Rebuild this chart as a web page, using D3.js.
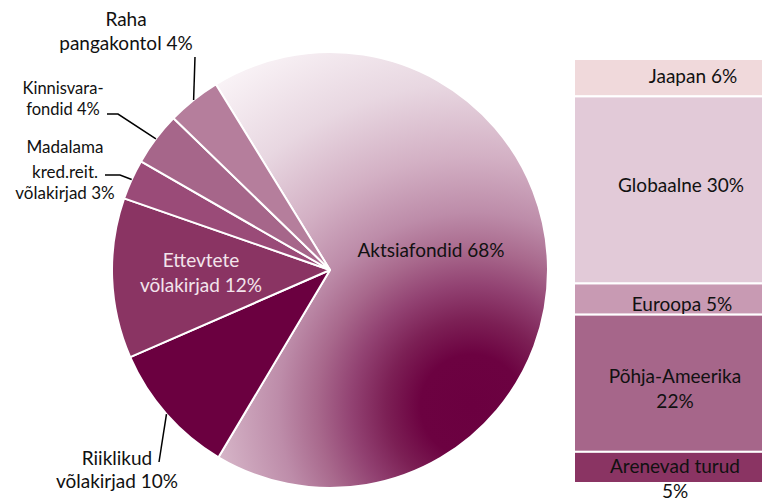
<!DOCTYPE html>
<html>
<head>
<meta charset="utf-8">
<script src="https://cdn.jsdelivr.net/npm/d3@7"></script>
<style>
    body { margin: 0; background: #fff; }
    svg text { font-family: Lato, "Open Sans", sans-serif; }
</style>
</head>
<body>
<div id="chart"></div>
<script>
// pie: portfolio split
const pie_names = ["Aktsiafondid", "Riiklikud võlakirjad", "Ettevtete võlakirjad",
    "Madalama kred.reit. võlakirjad", "Kinnisvarafondid", "Raha pangakontol"];
const pie_values = [68, 10, 12, 3, 4, 4];
const pie_colors = ["url(#aktsia_grad)", "#6b0040", "#8a3463", "#9a4b78", "#a6668a", "#b57e9c"];

// bar: equity funds split by region
const bar_names = ["Jaapan", "Globaalne", "Euroopa", "Põhja-Ameerika", "Arenevad turud"];
const bar_values = [6, 30, 5, 22, 5];
const bar_colors = ["#f0d9db", "#e2cad8", "#c89ab3", "#a6668a", "#8a3463"];

const width = 765, height = 501;
const cx = 330, cy = 270, radius = 218;

const svg = d3.select("#chart")
    .append("svg")
    .attr("width", width)
    .attr("height", height);

const defs = svg.append("defs");
const grad = defs.append("radialGradient")
    .attr("id", "aktsia_grad")
    .attr("gradientUnits", "userSpaceOnUse")
    .attr("cx", 142).attr("cy", 136)
    .attr("r", 430);
[[0, "#6b0040"], [0.12, "#6c0241"], [0.2, "#7c2055"], [0.28, "#924272"],
 [0.36, "#a8688c"], [0.45, "#bd8ca9"], [0.58, "#d3b0c4"], [0.75, "#e8d7e1"], [1, "#fdf9fb"]]
    .forEach(function (s) {
        grad.append("stop").attr("offset", s[0]).attr("stop-color", s[1]);
    });

const start = -31.6 * Math.PI / 180;
const pie = d3.pie().sort(null).value(d => d)
    .startAngle(start).endAngle(start + 2 * Math.PI);
const arcs = pie(pie_values);
const arc = d3.arc().innerRadius(0).outerRadius(radius);

const g = svg.append("g").attr("transform", "translate(" + cx + "," + cy + ")");

g.selectAll("path.slice")
    .data(arcs)
    .enter()
    .append("path")
    .attr("class", "slice")
    .attr("d", arc)
    .attr("fill", (d, i) => pie_colors[i])
    .attr("stroke", "#fff")
    .attr("stroke-width", 2)
    .attr("stroke-linejoin", "round");

// point on the rim at the middle of slice i
function rim(i) {
    const a = (arcs[i].startAngle + arcs[i].endAngle) / 2;
    return [cx + Math.sin(a) * radius, cy - Math.cos(a) * radius];
}

// label layout (absolute positions), leader = bend points from text to rim
const label_layout = [
    { i: 0, x: 431, y: 257, lines: ["Aktsiafondid 68%"], fill: "#111" },
    { i: 1, x: 117, y: 465, lines: ["Riiklikud", "võlakirjad 10%"], fill: "#111", leader: [[159, 462]], lh: [0, 23] },
    { i: 2, x: 201, y: 267, lines: ["Ettevtete", "võlakirjad 12%"], fill: "#f3e4ec" },
    { i: 3, x: 65, y: 153, lines: ["Madalama", "kred.reit.", "võlakirjad 3%"], fill: "#111", leader: [[105, 175], [120, 175]], lh: [0, 25, 46], fs: 17 },
    { i: 4, x: 63, y: 94, lines: ["Kinnisvara-", "fondid 4%"], fill: "#111", leader: [[107, 114], [118, 114]], lh: [0, 21], fs: 16.5 },
    { i: 5, x: 126, y: 26, lines: ["Raha", "pangakontol 4%"], fill: "#111", leader: [[195, 57]], lh: [0, 24] }
];

const line = d3.line();
label_layout.forEach(function (l) {
    if (l.leader) {
        g.append("path")
            .attr("transform", "translate(" + (-cx) + "," + (-cy) + ")")
            .attr("d", line(l.leader.concat([rim(l.i)])))
            .attr("fill", "none")
            .attr("stroke", "#000")
            .attr("stroke-width", 1.5);
    }
    const t = svg.append("text")
        .attr("text-anchor", "middle")
        .attr("font-size", (l.fs || 19) + "px")
        .attr("fill", l.fill);
    l.lines.forEach(function (s, k) {
        t.append("tspan")
            .attr("x", l.x)
            .attr("y", l.y + (l.lh ? l.lh[k] : k * 25))
            .text(s);
    });
});

// stacked bar
const bar_x0 = 574, bar_x1 = 763;
const y = d3.scaleLinear()
    .domain([0, d3.sum(bar_values)])
    .range([59, 483]);

let acc = 0;
const stacked = bar_values.map(function (v, i) {
    const d = { name: bar_names[i], value: v, y0: acc, y1: acc + v, color: bar_colors[i] };
    acc += v;
    return d;
});

svg.selectAll("rect.seg")
    .data(stacked)
    .enter()
    .append("rect")
    .attr("class", "seg")
    .attr("x", bar_x0)
    .attr("width", bar_x1 - bar_x0)
    .attr("y", d => y(d.y0))
    .attr("height", d => y(d.y1) - y(d.y0))
    .attr("fill", d => d.color)
    .attr("stroke", "#fff")
    .attr("stroke-width", 2);

const bar_labels = [
    { x: 693, lines: [bar_names[0] + " " + bar_values[0] + "%"], y: 83 },
    { x: 681, lines: [bar_names[1] + " " + bar_values[1] + "%"], y: 192 },
    { x: 682, lines: [bar_names[2] + " " + bar_values[2] + "%"], y: 311 },
    { x: 675, lines: [bar_names[3], bar_values[3] + "%"], y: 383 },
    { x: 675, lines: [bar_names[4], bar_values[4] + "%"], y: 473 }
];

bar_labels.forEach(function (l) {
    const t = svg.append("text")
        .attr("text-anchor", "middle")
        .attr("font-size", "19px")
        .attr("fill", "#111");
    l.lines.forEach(function (s, k) {
        t.append("tspan")
            .attr("x", l.x)
            .attr("y", l.y + k * 25)
            .text(s);
    });
});
</script>
</body>
</html>
